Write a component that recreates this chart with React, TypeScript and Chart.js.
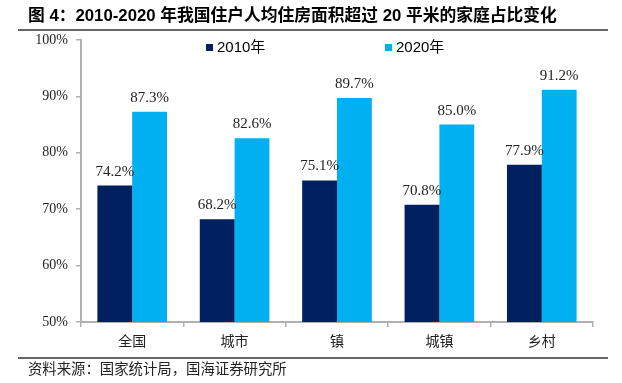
import React, { useEffect, useRef } from "react";
import { Chart, registerables } from "chart.js";

Chart.register(...registerables);

const categories = ["全国", "城市", "镇", "城镇", "乡村"];
const series2010 = [74.2, 68.2, 75.1, 70.8, 77.9];
const series2020 = [87.3, 82.6, 89.7, 85.0, 91.2];
const seriesNames = ["2010年", "2020年"];
const seriesColors = ["#002060", "#00B0F0"];
const titleText = "图 4：2010-2020 年我国住户人均住房面积超过 20 平米的家庭占比变化";
const sourceText = "资料来源：国家统计局，国海证券研究所";

const W = 622;
const H = 383;

function fitFont(ctx: any, text: string, weight: string, family: string, target: number, base: number) {
  ctx.font = `${weight} ${base}px ${family}`;
  const w = ctx.measureText(text).width;
  const size = (base * target) / w;
  ctx.font = `${weight} ${size}px ${family}`;
}

const decorPlugin = {
  id: "decor",
  afterDraw(chart: any) {
    const ctx = chart.ctx;
    ctx.save();
    // title
    ctx.fillStyle = "#000";
    ctx.textBaseline = "middle";
    ctx.textAlign = "left";
    fitFont(ctx, titleText, "bold", "'Liberation Sans', 'Noto Sans CJK SC', sans-serif", 529, 16);
    ctx.fillText(titleText, 28, 16);
    // top line
    ctx.strokeStyle = "#333";
    ctx.lineWidth = 1.5;
    ctx.beginPath();
    ctx.moveTo(18, 30);
    ctx.lineTo(608, 30);
    ctx.stroke();
    // bottom line
    ctx.beginPath();
    ctx.moveTo(18, 358);
    ctx.lineTo(608, 358);
    ctx.stroke();
    // source
    ctx.fillStyle = "#222";
    fitFont(ctx, sourceText, "normal", "'Noto Sans CJK SC', sans-serif", 259, 14);
    ctx.fillText(sourceText, 28, 369);
    // legend
    const legendX = [206, 385];
    ctx.font = "15px 'Liberation Sans', 'Noto Sans CJK SC', sans-serif";
    for (let i = 0; i < seriesNames.length; i++) {
      ctx.fillStyle = seriesColors[i];
      ctx.fillRect(legendX[i], 44, 7, 7);
      ctx.fillStyle = "#000";
      ctx.fillText(seriesNames[i], legendX[i] + 11, 48);
    }
    // data labels
    ctx.font = "15px 'Liberation Serif', serif";
    ctx.textAlign = "center";
    ctx.textBaseline = "alphabetic";
    ctx.fillStyle = "#222";
    chart.data.datasets.forEach((ds: any, di: number) => {
      const meta = chart.getDatasetMeta(di);
      meta.data.forEach((bar: any, i: number) => {
        const v = ds.data[i];
        ctx.fillText(v.toFixed(1) + "%", bar.x, bar.y - 10);
      });
    });
    ctx.restore();
  },
};

export default function App() {
  const ref = useRef<HTMLCanvasElement>(null);
  useEffect(() => {
    const chart = new Chart(ref.current!, {
      type: "bar",
      data: {
        labels: categories,
        datasets: [
          { label: seriesNames[0], data: series2010, backgroundColor: seriesColors[0], barPercentage: 1, categoryPercentage: 0.68 },
          { label: seriesNames[1], data: series2020, backgroundColor: seriesColors[1], barPercentage: 1, categoryPercentage: 0.68 },
        ],
      },
      options: {
        responsive: false,
        animation: false,
        devicePixelRatio: 1,
        layout: { padding: { top: 40, right: 29, left: 0, bottom: 0 } },
        plugins: { legend: { display: false }, tooltip: { enabled: false }, title: { display: false } },
        scales: {
          x: {
            grid: { drawOnChartArea: false, drawTicks: true, tickLength: 5, color: "#b0b0b0", lineWidth: 1.5 },
            border: { color: "#b0b0b0", width: 2 },
            ticks: { color: "#222", font: { family: "'Noto Sans CJK SC', sans-serif", size: 14 }, padding: 5 },
            afterFit(scale: any) { scale.height = 61; },
          },
          y: {
            min: 50,
            max: 100,
            grid: { drawOnChartArea: false, drawTicks: true, tickLength: 5, color: "#b0b0b0", lineWidth: 1.5 },
            border: { color: "#b0b0b0", width: 2 },
            ticks: { stepSize: 10, color: "#222", font: { family: "'Liberation Serif', serif", size: 14 }, padding: 8, callback: (v: any) => v + "%" },
            afterFit(scale: any) { scale.width = 81; },
          },
        },
      },
      plugins: [decorPlugin],
    });
    return () => chart.destroy();
  }, []);
  return (
    <div style={{ position: "fixed", left: 0, top: 0, width: W, height: H, background: "#fff" }}>
      <canvas ref={ref} width={W} height={H} style={{ width: W, height: H }} />
    </div>
  );
}
